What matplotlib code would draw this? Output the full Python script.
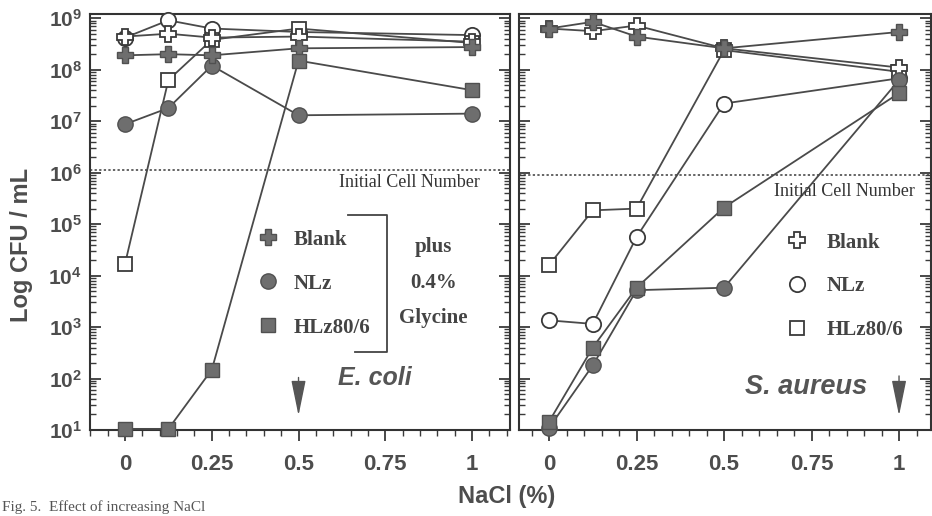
import matplotlib
matplotlib.use('Agg')
import matplotlib.pyplot as plt
from matplotlib.lines import Line2D
from matplotlib.ticker import FixedLocator, LogLocator, MultipleLocator, NullFormatter

# ---------------- data (CFU/mL) ----------------
nacl = [0, 0.125, 0.25, 0.5, 1.0]

# E. coli, no glycine (open symbols)
ecoli_blank = [4.4e8, 5.0e8, 4.2e8, 4.4e8, 3.5e8]
ecoli_nlz = [4.2e8, 9.1e8, 6.3e8, 5.4e8, 4.7e8]
ecoli_hlz = [1.7e4, 6.3e7, 3.8e8, 6.3e8, 3.3e8]
# E. coli, plus 0.4% glycine (filled symbols)
ecoli_blank_gly = [1.9e8, 2.0e8, 1.9e8, 2.6e8, 2.75e8]
ecoli_nlz_gly = [8.7e6, 1.8e7, 1.2e8, 1.3e7, 1.4e7]
ecoli_hlz_gly = [10.5, 10.5, 148, 1.5e8, 4.0e7]

# S. aureus, no glycine (open symbols)
saureus_blank = [6.3e8, 5.6e8, 7.2e8, 2.6e8, 1.1e8]
saureus_nlz = [1.35e3, 1.15e3, 5.6e4, 2.2e7, 6.8e7]
saureus_hlz = [1.6e4, 1.85e5, 2.0e5, 2.4e8, 9.1e7]
# S. aureus, plus 0.4% glycine (filled symbols)
saureus_blank_gly = [6.3e8, 8.5e8, 4.4e8, 2.6e8, 5.4e8]
saureus_nlz_gly = [11, 180, 5.2e3, 5.8e3, 6.3e7]
saureus_hlz_gly = [14.5, 400, 5.8e3, 2.1e5, 3.5e7]

initial_cells_ecoli = 1.12e6
initial_cells_saureus = 0.89e6
ecoli_arrow_x = 0.5
saureus_arrow_x = 1.0

legend_labels = ['Blank', 'NLz', 'HLz80/6']
x_ticks = [0, 0.25, 0.5, 0.75, 1]
x_tick_labels = ['0', '0.25', '0.5', '0.75', '1']
y_ticks = [1e1, 1e2, 1e3, 1e4, 1e5, 1e6, 1e7, 1e8, 1e9]
y_tick_labels = [r'$10^{1}$', r'$10^{2}$', r'$10^{3}$', r'$10^{4}$', r'$10^{5}$',
                 r'$10^{6}$', r'$10^{7}$', r'$10^{8}$', r'$10^{9}$']

# ---------------- style ----------------
SANS = 'Liberation Sans'
SERIF = 'Liberation Serif'
TXT = '#4d4d4d'
LINE = '#4a4a4a'
FILL = '#6e6e6e'
plt.rcParams['mathtext.fontset'] = 'custom'
plt.rcParams['mathtext.rm'] = 'Liberation Sans:bold'
plt.rcParams['mathtext.it'] = 'Liberation Sans:bold:italic'
plt.rcParams['mathtext.bf'] = 'Liberation Sans:bold'
plt.rcParams['font.family'] = [SANS, 'DejaVu Sans']

open_style = dict(mfc='white', mec='#3a3a3a', mew=1.3)
filled_style = dict(mfc=FILL, mec='#505050', mew=1.0)
markers = {'blank': ('P', 12), 'nlz': ('o', 11), 'hlz': ('s', 10.5)}

fig = plt.figure(figsize=(9.32, 5.16), dpi=100)
axL = fig.add_axes([0.0966, 0.1667, 0.4506, 0.806])
axR = fig.add_axes([0.5569, 0.1667, 0.4425, 0.806])

panels = [
    (axL, (-0.1009, 1.1095),
     [('nlz', ecoli_nlz, False), ('hlz', ecoli_hlz, False), ('blank', ecoli_blank, False),
      ('nlz', ecoli_nlz_gly, True), ('blank', ecoli_blank_gly, True), ('hlz', ecoli_hlz_gly, True)]),
    (axR, (-0.0857, 1.0926),
     [('nlz', saureus_nlz, False), ('hlz', saureus_hlz, False), ('blank', saureus_blank, False),
      ('nlz', saureus_nlz_gly, True), ('hlz', saureus_hlz_gly, True), ('blank', saureus_blank_gly, True)]),
]

for ax, xlim, series in panels:
    for key, vals, filled in series:
        m, ms = markers[key]
        st = filled_style if filled else open_style
        ax.plot(nacl, vals, color=LINE, lw=1.3, marker=m, ms=ms, clip_on=False, zorder=3, **st)
    ax.set_yscale('log')
    ax.set_ylim(10, 10 ** 9.08)
    ax.set_xlim(*xlim)
    ax.xaxis.set_major_locator(FixedLocator(x_ticks))
    ax.xaxis.set_minor_locator(MultipleLocator(0.05))
    ax.yaxis.set_major_locator(FixedLocator(y_ticks))
    ax.yaxis.set_minor_locator(LogLocator(base=10, subs=range(2, 10)))
    ax.yaxis.set_minor_formatter(NullFormatter())
    ax.set_xticklabels(x_tick_labels)
    ax.tick_params(axis='x', which='both', direction='out', top=False, colors='#3a3a3a',
                   labelcolor=TXT, labelsize=16, pad=9)
    ax.tick_params(axis='x', which='major', length=8, width=1.3)
    ax.tick_params(axis='x', which='minor', length=4, width=1.0)
    ax.tick_params(axis='y', which='both', direction='in', left=True, right=True,
                   colors='#3a3a3a', labelcolor=TXT, labelsize=15, pad=6)
    ax.tick_params(axis='y', which='major', length=8, width=1.3)
    ax.tick_params(axis='y', which='minor', length=4, width=1.0)
    for tl in ax.get_xticklabels():
        tl.set_fontweight('bold')
    for sp in ax.spines.values():
        sp.set_color('#333333')
        sp.set_linewidth(1.5)

axL.set_yticklabels(y_tick_labels)
axR.tick_params(axis='y', labelleft=False)

# initial cell number lines
axL.axhline(initial_cells_ecoli, color='#3a3a3a', lw=1.1, ls=(0, (1.5, 1.5)), zorder=1)
axR.axhline(initial_cells_saureus, color='#3a3a3a', lw=1.1, ls=(0, (1.5, 1.5)), zorder=1)
axL.text(0.929, 0.595, 'Initial Cell Number', transform=axL.transAxes, ha='right', va='center',
         fontsize=13, family=SERIF, color='#333333')
axR.text(0.959, 0.573, 'Initial Cell Number', transform=axR.transAxes, ha='right', va='center',
         fontsize=13, family=SERIF, color='#333333')

# arrows
arrow_props = dict(arrowstyle='-|>,head_length=2.2,head_width=0.45', color='#555555', lw=1.0,
                   shrinkA=0, shrinkB=0, mutation_scale=10)
axL.annotate('', xy=(ecoli_arrow_x, 10 ** 1.28), xytext=(ecoli_arrow_x, 10 ** 2.02), arrowprops=arrow_props)
axR.annotate('', xy=(saureus_arrow_x, 10 ** 1.28), xytext=(saureus_arrow_x, 10 ** 2.05), arrowprops=arrow_props)

# organism names
axL.text(0.59, 0.125, 'E. coli', transform=axL.transAxes, ha='left', va='center', fontsize=18,
         fontweight='bold', fontstyle='italic', color='#555555')
axR.text(0.547, 0.104, 'S. aureus', transform=axR.transAxes, ha='left', va='center', fontsize=19.5,
         fontweight='bold', fontstyle='italic', color='#555555')

# legends
def proxies(style):
    return [Line2D([], [], ls='none', marker=markers[k][0], ms=markers[k][1], **style)
            for k in ('blank', 'nlz', 'hlz')]

legL = axL.legend(proxies(filled_style), legend_labels, loc='center left', bbox_to_anchor=(0.40, 0.352),
                  frameon=False, borderpad=0, borderaxespad=0, handlelength=1.0, handletextpad=0.7,
                  labelspacing=1.15, prop=dict(family=SERIF, weight='bold', size=15))
for t in legL.get_texts():
    t.set_color('#444444')
legR = axR.legend(proxies(open_style), legend_labels, loc='center left', bbox_to_anchor=(0.649, 0.345),
                  frameon=False, borderpad=0, borderaxespad=0, handlelength=1.0, handletextpad=0.9,
                  labelspacing=1.15, prop=dict(family=SERIF, weight='bold', size=15))
for t in legR.get_texts():
    t.set_color('#444444')

# bracket and glycine note
axL.plot([0.614, 0.707, 0.707, 0.631], [0.516, 0.516, 0.188, 0.188], transform=axL.transAxes,
         color='#444444', lw=1.3, clip_on=False)
for txt, yy in [('plus', 0.441), ('0.4%', 0.354), ('Glycine', 0.27)]:
    axL.text(0.817, yy, txt, transform=axL.transAxes, ha='center', va='center', fontsize=15,
             family=SERIF, fontweight='bold', color='#444444')

axL.set_ylabel('Log CFU / mL', fontsize=17, fontweight='bold', color=TXT)
axL.yaxis.set_label_coords(-0.135, 0.446)
fig.text(507 / 932, 1 - 497 / 516, 'NaCl (%)', ha='center', va='center', fontsize=17,
         fontweight='bold', color=TXT)
fig.text(0.002, 0.003, 'Fig. 5.  Effect of increasing NaCl', ha='left', va='bottom', fontsize=11,
         family=SERIF, color='#555555')

fig.savefig('out.png', dpi=100)
